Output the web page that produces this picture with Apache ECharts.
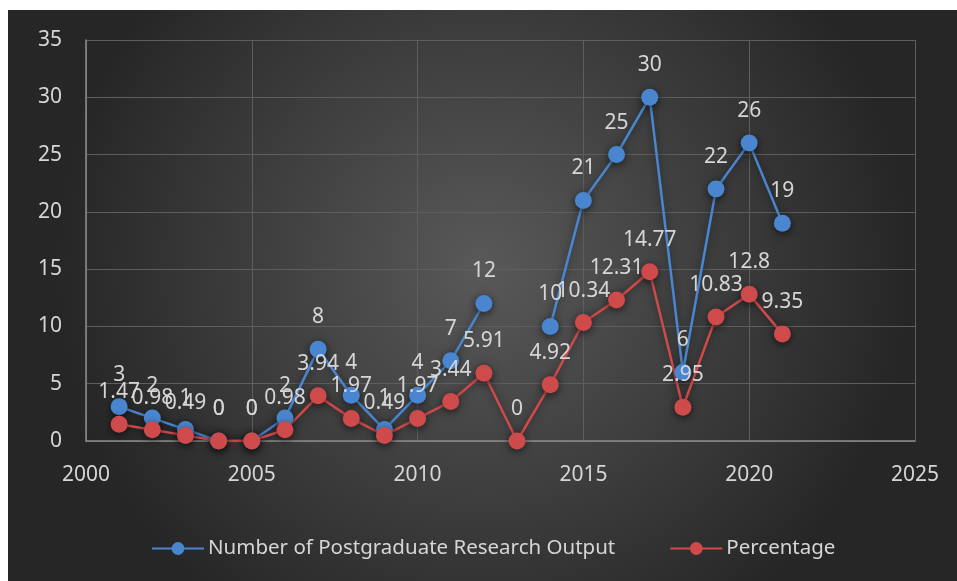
<!DOCTYPE html>
<html>
<head>
<meta charset="utf-8">
<script src="https://cdn.jsdelivr.net/npm/echarts@6/dist/echarts.min.js"></script>
<style>
  html, body { margin: 0; padding: 0; background: #fff; }
  #chart { position: absolute; left: 8px; top: 10px; width: 949px; height: 571px; }
</style>
</head>
<body>
<div id="chart"></div>
<script>
const years = [2001, 2002, 2003, 2004, 2005, 2006, 2007, 2008, 2009, 2010, 2011,
  2012, 2013, 2014, 2015, 2016, 2017, 2018, 2019, 2020, 2021];
// blue series has no point for 2013
const outputCount = [3, 2, 1, 0, 0, 2, 8, 4, 1, 4, 7, 12, null, 10, 21, 25, 30, 6, 22, 26, 19];
const percentage = [1.47, 0.98, 0.49, 0, 0, 0.98, 3.94, 1.97, 0.49, 1.97, 3.44, 5.91, 0,
  4.92, 10.34, 12.31, 14.77, 2.95, 10.83, 12.8, 9.35];

const textColor = '#d6d6d6';
const font = 'Noto Sans';

const chart = echarts.init(document.getElementById('chart'));

const makeSeries = (name, values, color) => ({
  name,
  type: 'line',
  data: years.map((y, i) => [y, values[i]]),
  symbol: 'circle',
  symbolSize: 17,
  connectNulls: false,
  lineStyle: { color, width: 2.5, shadowBlur: 8, shadowColor: 'rgba(0,0,0,0.55)' },
  itemStyle: { color, shadowBlur: 8, shadowColor: 'rgba(0,0,0,0.6)', shadowOffsetY: 2 },
  label: {
    show: true,
    position: 'top',
    distance: 13,
    color: textColor,
    fontFamily: font,
    fontSize: 21
  }
});

chart.setOption({
  backgroundColor: {
    type: 'radial', x: 0.5, y: 0.45, r: 0.75,
    colorStops: [
      { offset: 0, color: '#595959' },
      { offset: 1, color: '#262626' }
    ]
  },
  animation: false,
  grid: { left: 78, right: 42, top: 30, bottom: 140 },
  xAxis: {
    type: 'value',
    min: 2000, max: 2025, interval: 5,
    axisLine: { show: true, lineStyle: { color: '#8c8c8c', width: 1.5 } },
    axisTick: { show: false },
    splitLine: { show: true, lineStyle: { color: '#5e5e5e', width: 1 } },
    axisLabel: { color: textColor, fontFamily: font, fontSize: 21, margin: 24, formatter: (v) => String(v) }
  },
  yAxis: {
    type: 'value',
    min: 0, max: 35, interval: 5,
    axisLine: { show: true, lineStyle: { color: '#8c8c8c', width: 1.5 } },
    axisTick: { show: false },
    splitLine: { show: true, lineStyle: { color: '#5e5e5e', width: 1 } },
    axisLabel: { color: textColor, fontFamily: font, fontSize: 21, margin: 24 }
  },
  legend: {
    top: 523,
    left: 138,
    itemWidth: 52,
    itemHeight: 16,
    itemGap: 54,
    textStyle: { color: textColor, fontFamily: font, fontSize: 20.5, padding: [0, 0, 0, -1] },
    data: ['Number of Postgraduate Research Output', 'Percentage']
  },
  series: [
    makeSeries('Number of Postgraduate Research Output', outputCount, '#4a86cf'),
    makeSeries('Percentage', percentage, '#cf4a4a')
  ]
});
</script>
</body>
</html>
